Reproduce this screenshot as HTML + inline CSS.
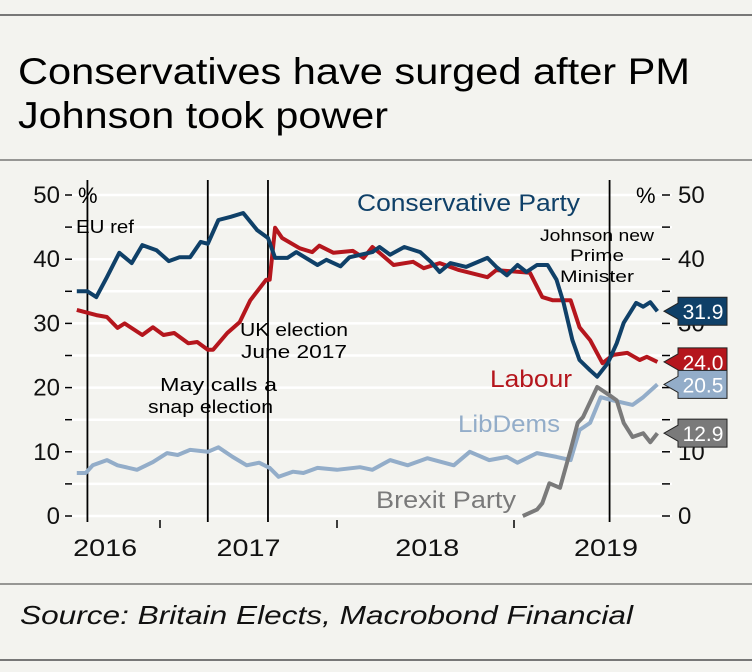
<!DOCTYPE html>
<html><head><meta charset="utf-8"><style>
body{margin:0;background:#fff;}
#wrap{position:relative;width:752px;height:672px;background:#f3f3ef;font-family:"Liberation Sans",sans-serif;overflow:hidden}
</style></head><body>
<div id="wrap">
<svg id="svg" width="752" height="672" xmlns="http://www.w3.org/2000/svg">
<line x1="0" y1="15" x2="752" y2="15" stroke="#777" stroke-width="2"/>
<text x="18" y="84" font-size="37" textLength="672" lengthAdjust="spacingAndGlyphs" fill="#000">Conservatives have surged after PM</text>
<text x="18" y="128" font-size="37" textLength="370" lengthAdjust="spacingAndGlyphs" fill="#000">Johnson took power</text>
<line x1="0" y1="160" x2="752" y2="160" stroke="#777" stroke-width="1.5"/>
<g id="grid"></g><g id="axes"></g><g id="events"></g><g id="series"></g><g id="labels"></g>
<line x1="0" y1="584" x2="752" y2="584" stroke="#777" stroke-width="1.5"/>
<text x="20" y="624" font-size="26" font-style="italic" textLength="613" lengthAdjust="spacingAndGlyphs" fill="#111">Source: Britain Elects, Macrobond Financial</text>
<line x1="0" y1="660" x2="752" y2="660" stroke="#777" stroke-width="2"/>
</svg>
</div>
<script>
const yTicks=[0,10,20,30,40,50];
const gridVals=[0,5,10,15,20,25,30,35,40,45,50];
const yearTicks=[2017,2018,2019];
const yearLabels=["2016","2017","2018","2019"];
const yearLabelT=[2016.69,2017.5,2018.51,2019.52];
const eventT=[2016.59,2017.27,2017.61,2019.54];
const conT=[2016.53,2016.59,2016.64,2016.70,2016.77,2016.84,2016.90,2016.98,2017.05,2017.11,2017.17,2017.23,2017.27,2017.33,2017.40,2017.47,2017.55,2017.61,2017.65,2017.72,2017.77,2017.89,2017.94,2018.02,2018.07,2018.20,2018.24,2018.30,2018.38,2018.47,2018.53,2018.58,2018.64,2018.73,2018.85,2018.90,2018.96,2019.02,2019.07,2019.13,2019.19,2019.24,2019.28,2019.33,2019.37,2019.43,2019.47,2019.53,2019.58,2019.62,2019.69,2019.73,2019.77,2019.81];
const conV=[35.0,35,34.1,37.2,41,39.4,42.2,41.4,39.7,40.3,40.3,42.7,42.4,46.1,46.6,47.2,44.5,43.3,40.2,40.2,41.1,39.1,39.9,38.9,40.3,41.1,41.9,40.7,41.9,41.1,39.6,38,39.4,38.8,40.2,38.8,37.5,39.1,38,39.1,39.1,36.8,33.2,27.4,24.3,22.7,21.7,23.8,26.9,30.1,33.2,32.6,33.3,31.9];
const labT=[2016.53,2016.64,2016.70,2016.76,2016.80,2016.90,2016.96,2017.02,2017.08,2017.16,2017.21,2017.27,2017.30,2017.38,2017.45,2017.51,2017.60,2017.62,2017.65,2017.69,2017.79,2017.86,2017.90,2017.98,2018.09,2018.15,2018.20,2018.24,2018.32,2018.43,2018.49,2018.58,2018.69,2018.85,2018.90,2019.09,2019.16,2019.22,2019.32,2019.37,2019.43,2019.50,2019.56,2019.64,2019.71,2019.75,2019.81];
const labV=[32.1,31.3,31,29.3,30,28.2,29.4,28.2,28.5,26.9,27.1,25.9,25.9,28.5,30.2,33.6,36.8,36.8,44.9,43.3,41.7,41.1,42.1,41,41.3,40.2,41.9,41,39.1,39.6,38.6,39.4,38.3,37.2,38.3,37.9,34.1,33.6,33.6,29.4,27.4,23.8,25.1,25.4,24.3,24.8,24.0];
const ldT=[2016.53,2016.58,2016.62,2016.70,2016.76,2016.87,2016.96,2017.04,2017.10,2017.17,2017.27,2017.33,2017.41,2017.49,2017.56,2017.62,2017.67,2017.75,2017.81,2017.89,2018.00,2018.13,2018.20,2018.30,2018.40,2018.51,2018.66,2018.75,2018.86,2018.96,2019.02,2019.13,2019.24,2019.32,2019.37,2019.43,2019.49,2019.56,2019.67,2019.73,2019.81];
const ldV=[6.7,6.7,7.9,8.7,7.9,7.2,8.4,9.8,9.5,10.3,10,10.7,9.2,7.9,8.3,7.5,6.1,6.9,6.7,7.5,7.2,7.6,7.2,8.7,7.9,9,7.9,10,8.7,9.2,8.3,9.8,9.2,8.7,13.4,14.5,18.5,18,17.3,18.5,20.5];
const bxT=[2019.05,2019.13,2019.16,2019.20,2019.26,2019.32,2019.36,2019.39,2019.47,2019.54,2019.58,2019.62,2019.67,2019.73,2019.77,2019.81];
const bxV=[0,1,2,5.1,4.4,10.3,14.5,15.4,20.1,18.8,18,14.5,12.3,12.9,11.5,12.9];
const lastVals=[31.9,24.0,20.5,12.9];
const lastColors=["#0f4068","#b5161d","#93adc9","#7a7a7a"];

const NS="http://www.w3.org/2000/svg";
const X=t=>160+(t-2017)*177;
const Y=v=>516-v*6.42;
function mk(tag,attrs,parent){const e=document.createElementNS(NS,tag);for(const k in attrs)e.setAttribute(k,attrs[k]);document.getElementById(parent).appendChild(e);return e;}
gridVals.forEach(v=>{
 const l=mk('line',{x1:64,x2:672,y1:Y(v),y2:Y(v),stroke:'#fff','stroke-width':2.5},'grid');
 
 
 const a=mk('line',{x1:65,x2:72,y1:Y(v),y2:Y(v),stroke:'#000','stroke-width':1.5},'axes');
 
 
 const b=mk('line',{x1:662,x2:670,y1:Y(v),y2:Y(v),stroke:'#000','stroke-width':1.5},'axes');
 
 
});
yTicks.forEach(v=>{
 const t=mk('text',{x:60,y:Y(v)+8,'font-size':24,'text-anchor':'end',fill:'#111'},'axes');t.textContent=v;
 
 
 const r=mk('text',{x:678,y:Y(v)+8,'font-size':24,fill:'#111'},'axes');r.textContent=v;
 
 
});
yearTicks.forEach(t=>{const l=mk('line',{x1:X(t),x2:X(t),y1:520,y2:528,stroke:'#000','stroke-width':1.5},'axes');
 
 });
yearLabels.forEach((s,i)=>{const t=mk('text',{x:X(yearLabelT[i])-32,y:556,'font-size':24,textLength:64,lengthAdjust:'spacingAndGlyphs',fill:'#111'},'axes');t.textContent=s;
 
 });
eventT.forEach(t=>{const l=mk('line',{x1:X(t),x2:X(t),y1:180,y2:522,stroke:'#000','stroke-width':1.8},'events');
 
 });
function line(ts,vs,col,name){const d=ts.map((t,i)=>(i?'L':'M')+X(t).toFixed(1)+','+Y(vs[i]).toFixed(1)).join('');
 const p=mk('path',{d:d,fill:'none',stroke:col,'stroke-width':4,'stroke-linejoin':'round'},'series');
 
 }
line(ldT,ldV,lastColors[2],'libdems-line');
line(bxT,bxV,lastColors[3],'brexit-party-line');
line(labT,labV,lastColors[1],'labour-line');
line(conT,conV,lastColors[0],'conservative-line');
lastVals.forEach((v,i)=>{const y=Y(v);
 const p=mk('path',{d:`M664,${y} L678,${y-8} L678,${y-14} L727,${y-14} L727,${y+14} L678,${y+14} L678,${y+8} Z`,fill:lastColors[i],stroke:'#222','stroke-width':1},'labels');
 
 
 const t=mk('text',{x:703,y:y+8,'font-size':21,'text-anchor':'middle',fill:'#fff'},'labels');t.textContent=v.toFixed(1);
 
 
});
const ann=[["%",78,203,22,"#000",0,"left-unit"],["%",636,203,22,"#000",0,"right-unit"],["EU ref",76,233,18,"#000",58,"eu-ref-annotation"],
["UK election",240,336,18,"#000",108,"uk-election-annotation"],["June 2017",241,358,18,"#000",106,"uk-election-annotation-2"],
["May calls a",160,391,18,"#000",117,"snap-election-annotation"],["snap election",148,413,18,"#000",125,"snap-election-annotation-2"],
["Johnson new",540,241,17,"#000",114,"johnson-annotation"],["Prime",570,261,17,"#000",54,"johnson-annotation-2"],["Minister",560,282,17,"#000",74,"johnson-annotation-3"],
["Conservative Party",357,211,24,lastColors[0],223,"conservative-legend"],["Labour",490,387,24,lastColors[1],82,"labour-legend"],
["LibDems",458,432,24,lastColors[2],102,"libdems-legend"],["Brexit Party",376,508,24,lastColors[3],140,"brexit-party-legend"]];
ann.forEach(a=>{const at={x:a[1],y:a[2],'font-size':a[3],fill:a[4]};if(a[5]){at.textLength=a[5];at.lengthAdjust='spacingAndGlyphs';}
 const t=mk('text',at,'labels');t.textContent=a[0];
 
 });
</script>
</body></html>
